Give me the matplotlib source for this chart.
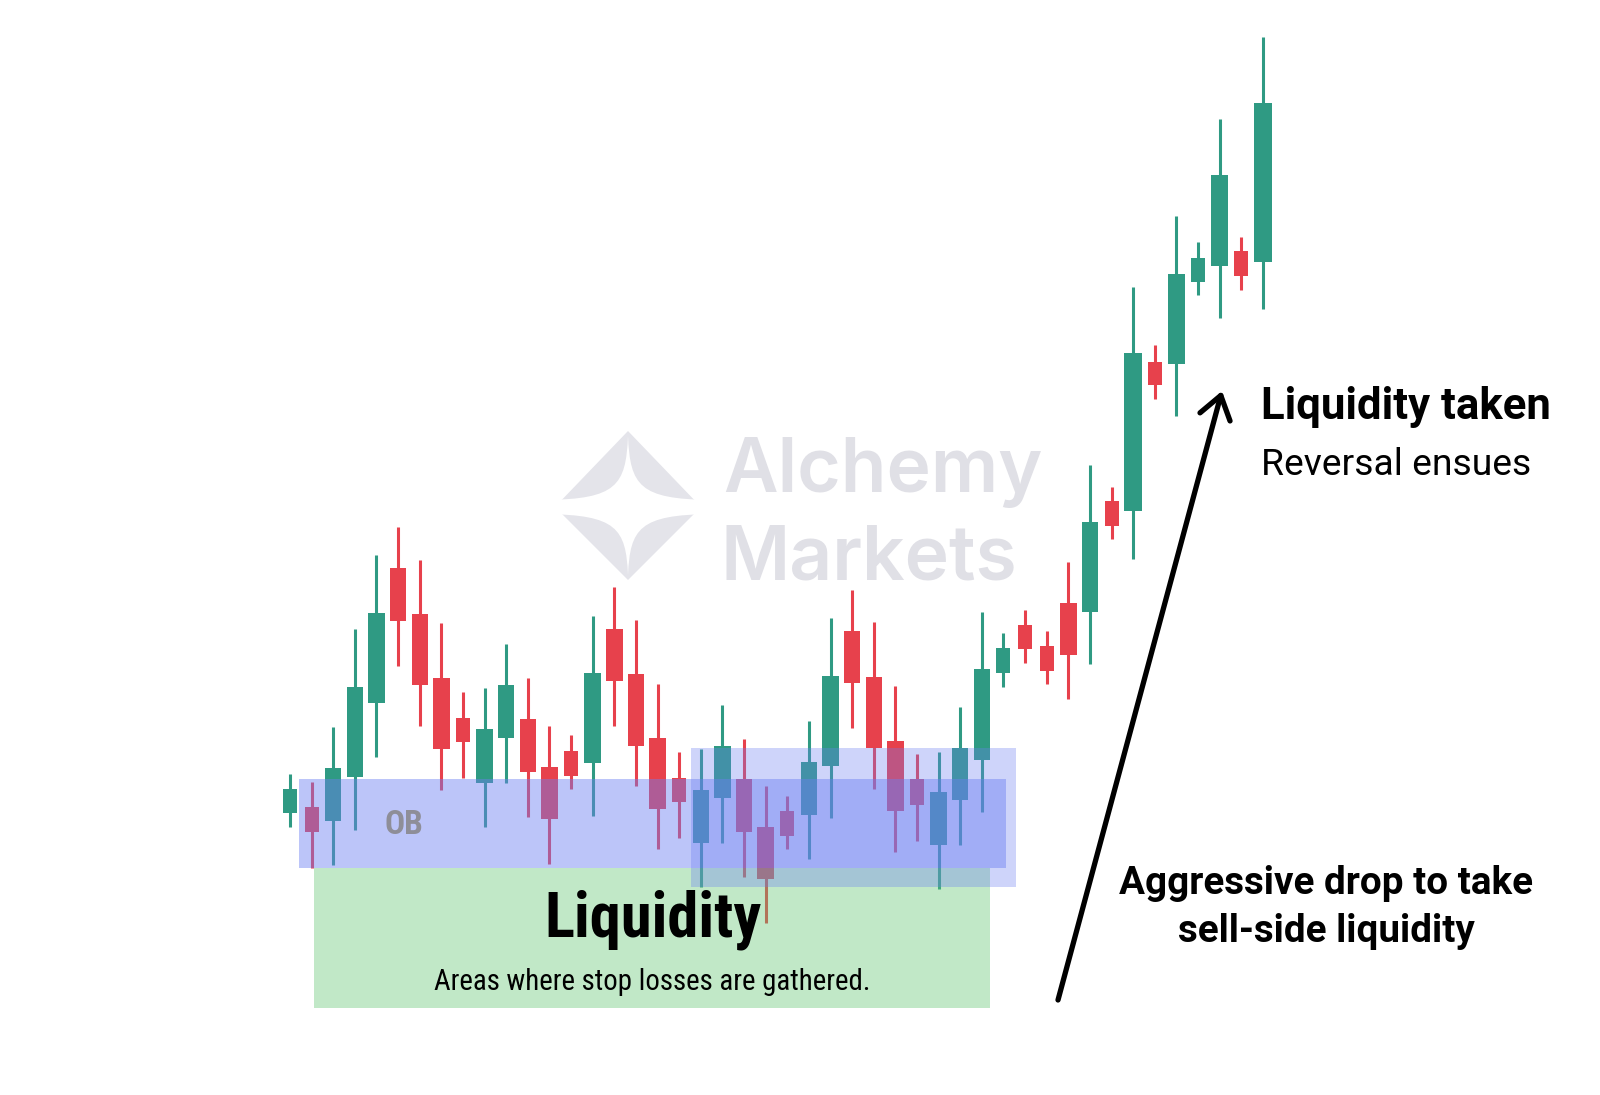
import matplotlib
matplotlib.use('Agg')
import matplotlib.pyplot as plt
from matplotlib.patches import Rectangle, Polygon, PathPatch
from matplotlib.path import Path

W, H = 1600, 1095

# candle data (price units, oldest first)
opens = [282, 288, 274, 318, 392, 527, 481, 417, 377, 312, 357, 376, 328, 344, 332,
         466, 421, 357, 317, 252, 297, 316, 268, 284, 280, 329, 464, 418, 354, 316,
         250, 295, 335, 422, 470, 449, 492, 483, 594, 584, 733, 731, 813, 829, 844, 833]
closes = [306, 263, 327, 408, 482, 474, 410, 346, 353, 366, 410, 323, 276, 319, 422,
          414, 349, 286, 293, 305, 349, 263, 216, 259, 333, 419, 412, 347, 284, 290,
          303, 347, 426, 447, 446, 424, 440, 573, 569, 742, 710, 821, 837, 920, 819, 992]
highs = [321, 313, 368, 466, 540, 568, 535, 472, 403, 407, 451, 417, 369, 360, 479,
         508, 475, 411, 343, 346, 390, 356, 309, 299, 374, 477, 505, 473, 409, 341,
         343, 388, 483, 462, 485, 464, 533, 630, 608, 808, 750, 879, 853, 976, 858, 1058]
lows = [268, 227, 230, 265, 338, 429, 369, 305, 317, 268, 312, 278, 231, 306, 279,
        369, 309, 246, 257, 208, 252, 218, 172, 246, 236, 277, 367, 306, 243, 254,
        206, 250, 283, 408, 432, 411, 396, 431, 556, 536, 696, 679, 800, 777, 805, 786]

# zones: (first candle, last candle, low price, high price)
ob_zone = (0.4, 33.1, 227, 316)
retest_zone = (18.55, 33.6, 208, 347)
liq_zone = (1.1, 32.4, 87, 227)

GREEN = '#2f9a83'
RED = '#e7414c'
COND = ['Roboto Condensed', 'Roboto', 'DejaVu Sans']
REG = ['Roboto', 'DejaVu Sans']


def fx(px):
    return px / W


def fy(py):
    return 1 - py / H


fig = plt.figure(figsize=(16, 10.95), dpi=100)
ax = fig.add_axes([0, 0, 1, 1])
ax.axis('off')

x0, step = 290, 21.62
ax.set_xlim(-x0 / step, (W - x0) / step)
ax.set_ylim(0, H)

# watermark logo: grey diamond with a white sparkle cut out
diamond = Polygon([(fx(628), fy(431)), (fx(701), fy(507)), (fx(628), fy(580)), (fx(555), fy(507))],
                  closed=True, transform=fig.transFigure, facecolor='#e4e4ea', edgecolor='none', zorder=0)
fig.add_artist(diamond)
sp = [(628, 436),
      (630, 486), (640, 499), (710, 500),
      (710, 514),
      (640, 515), (630, 528), (628, 575),
      (626, 528), (616, 515), (546, 514),
      (546, 500),
      (616, 499), (626, 486), (628, 436)]
codes = [Path.MOVETO,
         Path.CURVE4, Path.CURVE4, Path.CURVE4,
         Path.LINETO,
         Path.CURVE4, Path.CURVE4, Path.CURVE4,
         Path.CURVE4, Path.CURVE4, Path.CURVE4,
         Path.LINETO,
         Path.CURVE4, Path.CURVE4, Path.CURVE4]
spark = Path([(fx(a), fy(b)) for a, b in sp], codes)
fig.add_artist(PathPatch(spark, transform=fig.transFigure, facecolor='white', edgecolor='none', zorder=0.1))
fig.text(fx(723), fy(492), 'Alchemy', fontsize=54, color='#e0e0e6', family=['Inter', 'DejaVu Sans'],
         weight='semibold', va='baseline', ha='left', zorder=0.2)
fig.text(fx(721), fy(580), 'Markets', fontsize=54, color='#e0e0e6', family=['Inter', 'DejaVu Sans'],
         weight='semibold', va='baseline', ha='left', zorder=0.2)

# candles
idx = list(range(len(opens)))
colors = [GREEN if c >= o else RED for o, c in zip(opens, closes)]
bottoms = [min(o, c) for o, c in zip(opens, closes)]
heights = [abs(c - o) for o, c in zip(opens, closes)]
widths = [0.65 if h < 30 else (0.86 if h > 140 else 0.76) for h in heights]
ax.vlines(idx, lows, highs, colors=colors, lw=2.2, zorder=2)
ax.bar(idx, heights, bottom=bottoms, width=widths, color=colors, zorder=2.5)

# zones drawn over the candles
def zone(z, color, alpha, zo):
    ax.add_patch(Rectangle((z[0], z[2]), z[1] - z[0], z[3] - z[2], facecolor=color,
                           edgecolor='none', alpha=alpha, zorder=zo))

zone(liq_zone, '#5cc56e', 0.38, 3)
zone(ob_zone, '#6b7ff2', 0.45, 4)
zone(retest_zone, '#6b7ff2', 0.33, 4.1)

fig.text(fx(385), fy(834), 'OB', fontsize=24, color='#8e8e98', weight='bold', family=COND,
         va='baseline', ha='left', zorder=5)

fig.text(fx(653), fy(937), 'Liquidity', fontsize=45, weight='bold', family=COND,
         va='baseline', ha='center', zorder=6)
fig.text(fx(652), fy(990), 'Areas where stop losses are gathered.', fontsize=20.8, family=COND,
         va='baseline', ha='center', zorder=6)

fig.text(fx(1261), fy(419), 'Liquidity taken', fontsize=31.5, weight='bold', family=REG,
         va='baseline', ha='left', zorder=6)
fig.text(fx(1261), fy(475), 'Reversal ensues', fontsize=26.8, family=REG,
         va='baseline', ha='left', zorder=6)

fig.text(fx(1326), fy(894), 'Aggressive drop to take', fontsize=27.8, weight='bold',
         family=REG, va='baseline', ha='center', zorder=6)
fig.text(fx(1326), fy(942), 'sell-side liquidity', fontsize=27.8, weight='bold',
         family=REG, va='baseline', ha='center', zorder=6)

ax.annotate('', xy=(fx(1222), fy(391)), xycoords='figure fraction',
            xytext=(fx(1058), fy(1000)), textcoords='figure fraction',
            arrowprops=dict(arrowstyle='->, head_length=0.4, head_width=0.28', lw=3.8,
                            color='black', shrinkA=0, shrinkB=0, mutation_scale=40,
                            capstyle='round', joinstyle='round'),
            zorder=6)

fig.savefig('out.png', dpi=100)
